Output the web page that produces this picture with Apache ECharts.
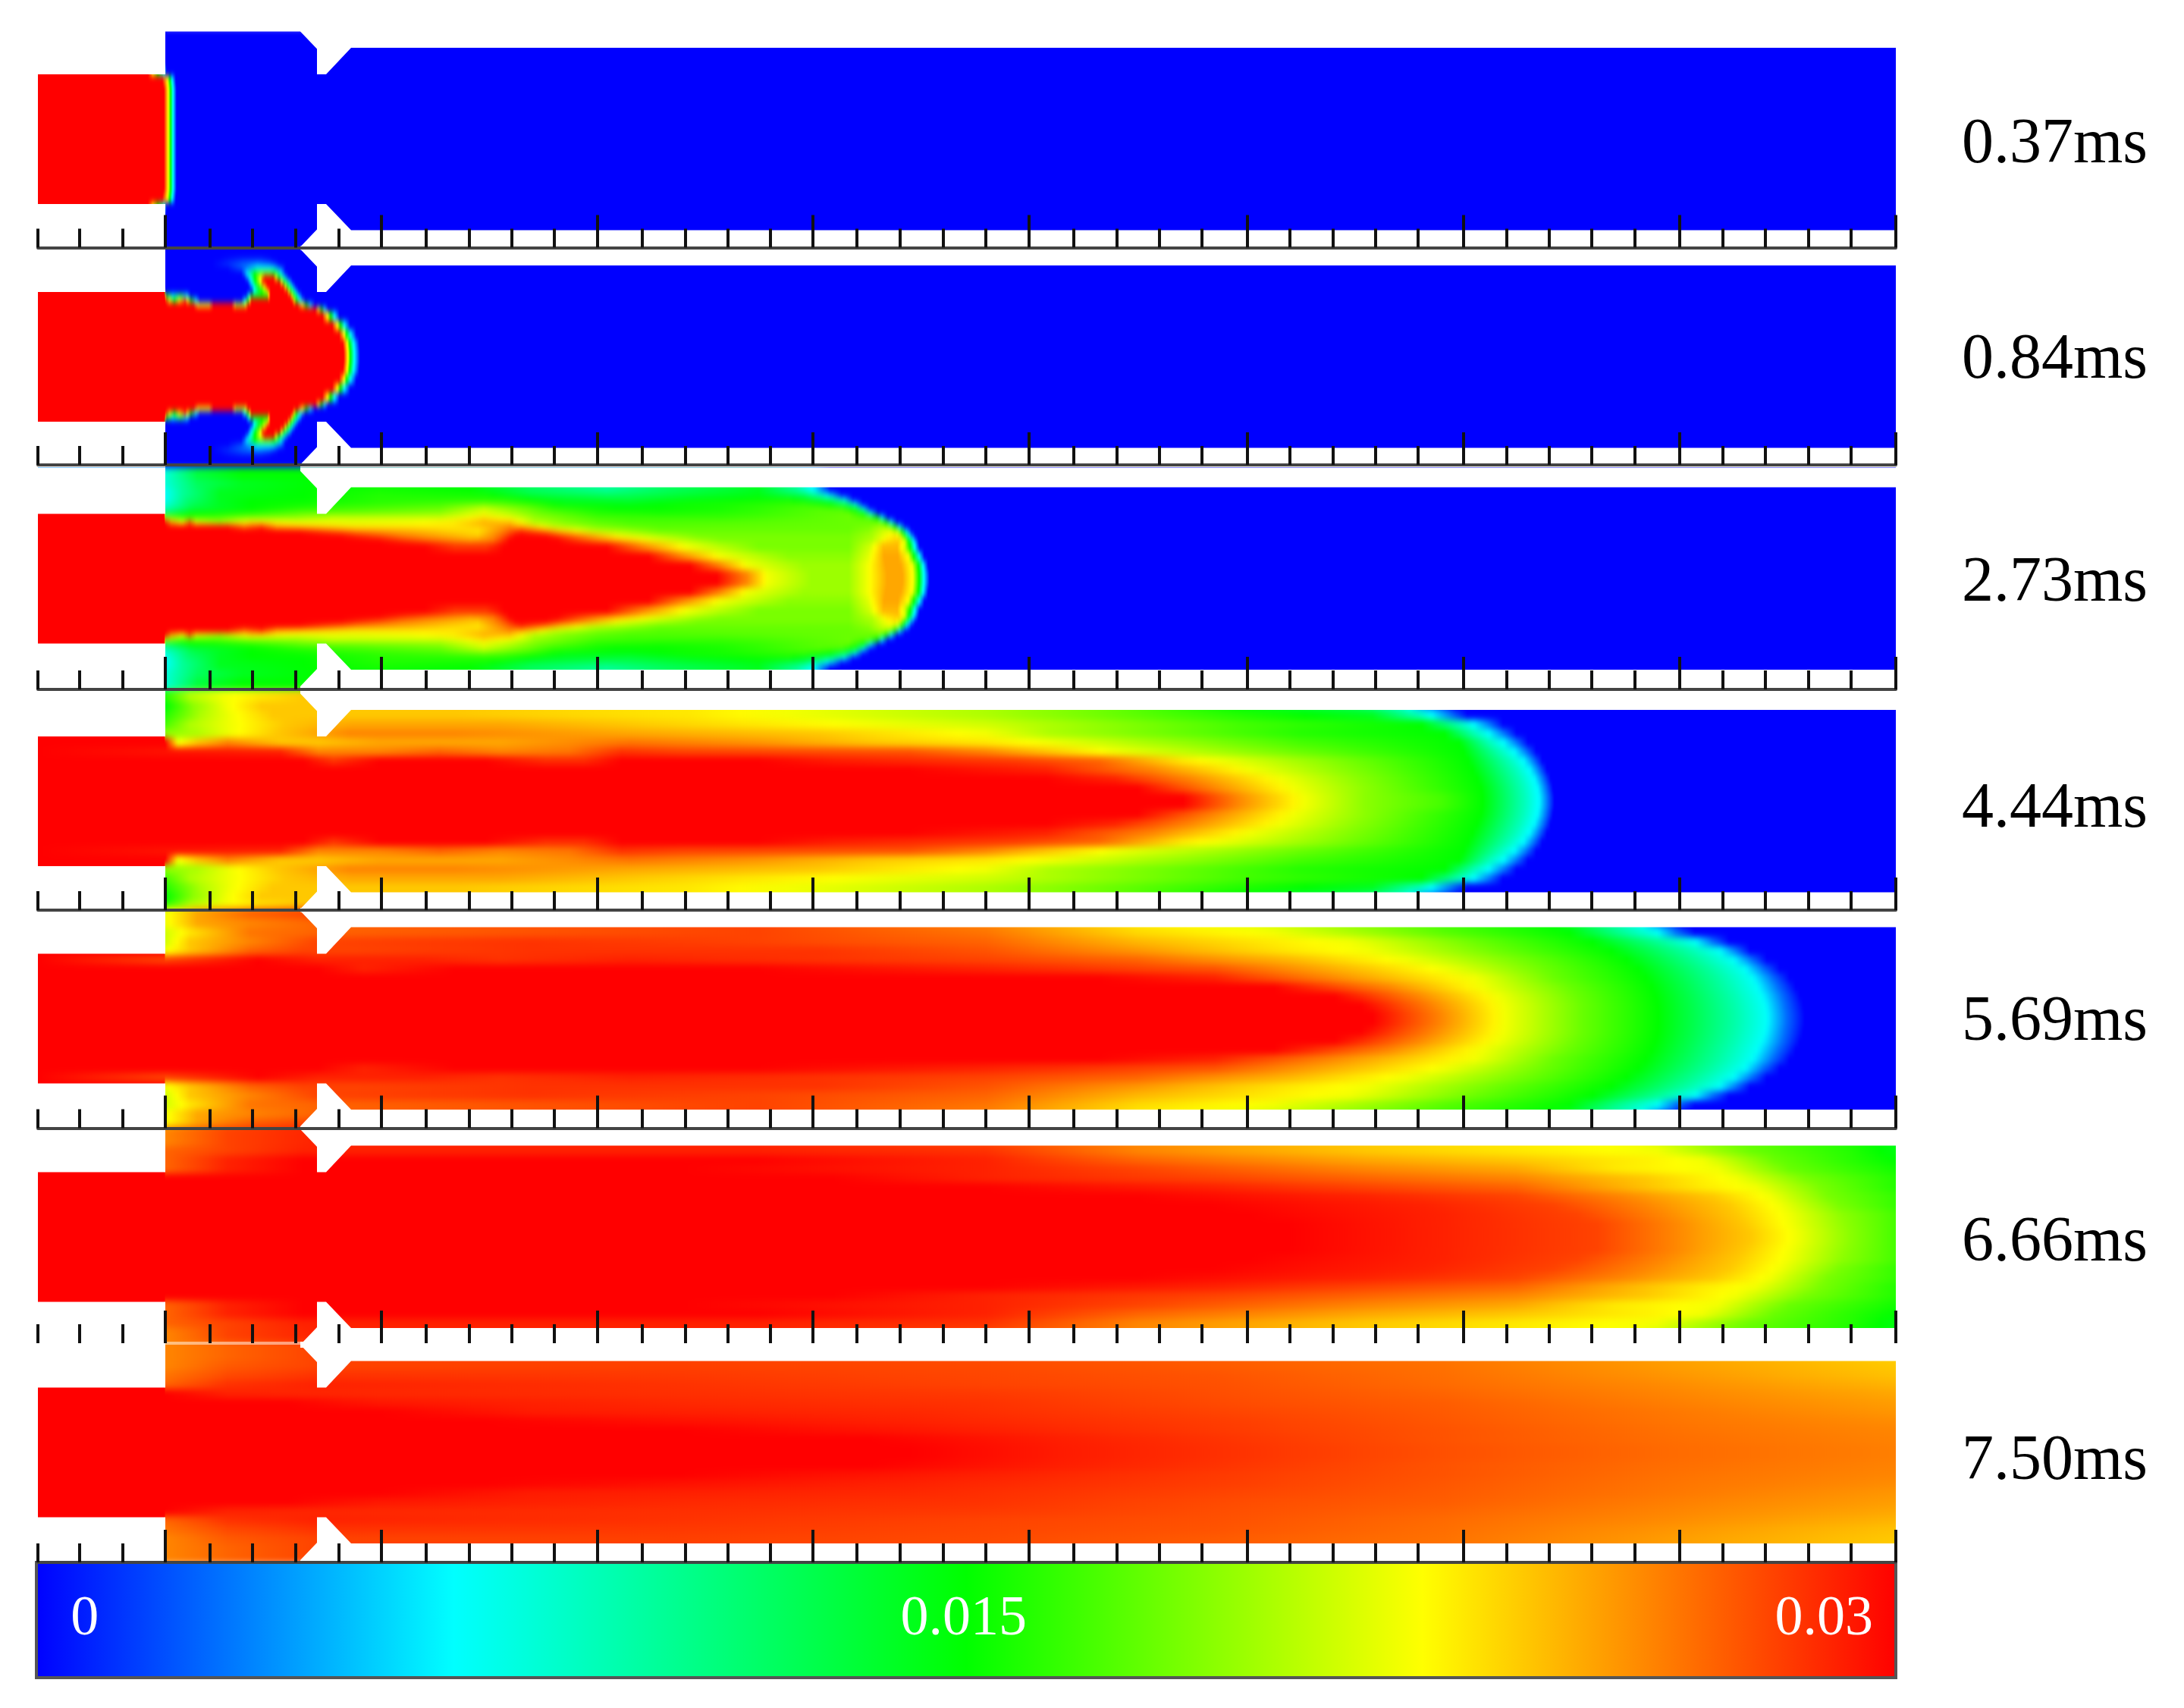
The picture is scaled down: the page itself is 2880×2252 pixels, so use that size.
<!DOCTYPE html>
<html>
<head>
<meta charset="utf-8">
<title>Fuel concentration over time</title>
<script src="https://cdn.jsdelivr.net/npm/echarts@6/dist/echarts.min.js"></script>
<style>
html, body { margin: 0; padding: 0; background: #fff; }
#chart { width: 2880px; height: 2252px; }
/* the field bands live on the bottom canvas, soften them across the rows only */
#chart canvas[data-zr-dom-id="zr_0"] { filter: url(#rowBlend); }
</style>
</head>
<body>
<svg width="0" height="0" style="position:absolute">
  <filter id="rowBlend" x="0" y="0" width="1" height="1" color-interpolation-filters="sRGB">
    <feGaussianBlur stdDeviation="0 4"/>
  </filter>
</svg>
<div id="chart"></div>
<script>
var timeLabels = ['0.37ms', '0.84ms', '2.73ms', '4.44ms', '5.69ms', '6.66ms', '7.50ms'];
var colorbarLabels = ['0', '0.015', '0.03'];
var colorbarLabelValues = [0.78, 14.96, 28.84];

// colour scale, values are fraction x 1000
var scaleLevels = [0, 6.75, 15, 22.35, 30];
var scaleColors = ['#0000ff', '#00ffff', '#00ff00', '#ffff00', '#ff0000'];

// ruler ticks along the duct
var majorTicks = [218, 502.5, 788, 1072, 1356.5, 1645, 1930, 2215, 2500];
var minorTicks = [50, 105, 162, 277, 333, 390, 447, 562, 619, 675, 731, 847, 904, 960, 1016,
    1130, 1187, 1244, 1300, 1416, 1473, 1529, 1585, 1701, 1758, 1814, 1870, 1987, 2043, 2099, 2156,
    2272, 2328, 2385, 2441];

// distance from the axis of each band edge, one half of the duct
var rowEdges = [0, 12, 24, 36, 48, 60, 72, 84, 96, 108, 120, 132, 146];
var rowEdges084 = [0, 12, 24, 36, 48, 60, 66, 72, 78, 84, 90, 96, 102, 108, 114, 120, 126, 132, 146];
var rowEdges273 = [0, 12, 24, 36, 48, 54, 60, 66, 72, 78, 84, 90, 96, 102, 108, 114, 120, 132, 146];

// each row: x, value, x, value ... read along one band
var field037 = [
    [50,30,216,30,222,22,225,15,228,7,233,0],
    [50,30,216,30,222,22,225,15,228,7,233,0],
    [50,30,216,30,222,22,225,15,228,7,233,0],
    [50,30,216,30,222,22,225,15,228,7,233,0],
    [50,30,216,30,222,22,225,15,228,7,233,0],
    [50,30,216,30,222,22,225,15,228,7,233,0],
    [50,30,214,30,221,22,224,15,227,7,232,0],
    [50,30,195,30,208,15,216,7,220,0],
    [50,30,190,30,205,15,215,7,218,0],
    [50,0,2500,0],
    [50,0,2500,0],
    [50,0,2500,0]
];
var field084 = [
    [50,30,453,30,459,22,462,15,467,7,475,0],
    [50,30,452,30,458,22,461,15,466,7,474,0],
    [50,30,447,30,454,22,457,15,462,7,470,0],
    [50,30,438,30,445,22,449,15,454,7,462,0],
    [50,30,425,30,432,22,436,15,441,7,448,0],
    [50,30,415,30,420,22,424,15,428,7,433,0],
    [50,30,255,30,262,22,275,22,282,30,305,30,312,20,322,20,328,30,392,30,399,22,404,15,409,7,416,0],
    [50,30,218,30,224,22,230,15,236,22,244,28,252,15,258,7,264,0,318,0,323,7,327,15,332,30,385,30,391,15,396,7,403,0],
    [50,30,217,30,220,15,228,7,238,12,246,7,252,0,324,0,328,7,332,15,352,15,357,30,382,30,388,15,393,7,399,0],
    [50,30,217,30,218,0,332,0,336,7,345,15,352,22,357,30,378,30,384,15,389,7,394,0],
    [50,30,217,30,218,0,328,0,335,7,341,15,348,22,353,30,373,30,380,15,385,7,390,0],
    [50,30,217,30,218,0,326,0,332,7,337,15,343,22,347,30,368,30,375,15,381,7,386,0],
    [50,0,322,0,330,7,336,15,343,22,350,30,360,30,368,15,375,7,381,0],
    [50,0,318,0,326,7,336,15,345,18,355,18,362,15,370,7,376,0],
    [50,0,300,0,325,3,340,7,360,7,370,3,378,0],
    [50,0,280,0,310,2,340,4,355,3,368,0],
    [50,0,290,0,320,1,345,1,360,0],
    [50,0,2500,0]
];
var field273 = [
    [50,30,945,30,985,26,1012,22,1070,19.5,1119,19.5,1144,22,1170,25,1190,25,1204,22,1212,15,1218,7,1226,0],
    [50,30,910,30,950,26,985,22,1060,19.5,1119,19.5,1144,22,1168,25,1188,25,1203,22,1211,15,1217,7,1224,0],
    [50,30,855,30,900,26,950,22,1040,19,1119,19,1145,21.5,1166,25,1184,25,1198,22,1205,15,1212,7,1219,0],
    [50,30,560,30,600,28.5,640,28.5,665,30,800,30,850,26,905,22,1000,18.5,1119,18.5,1146,21,1165,24.5,1183,24.5,1193,21,1200,15,1206,7,1213,0],
    [50,30,500,30,560,27,620,25,650,26,672,30,735,30,790,26,858,22,950,18.5,1119,18.5,1150,20,1170,23,1185,24,1193,22,1198,15,1204,7,1211,0],
    [50,30,450,30,490,28,530,26,580,25,630,24,660,27,680,30,720,30,770,26,820,22,920,18.5,1119,18.5,1150,20,1168,22,1180,23,1188,21,1193,15,1199,7,1207,0],
    [50,30,395,30,430,28,470,26,539,25,580,24,630,23,663,26,688,29,713,27,738,24,780,21,870,18,1119,18,1145,19,1165,21,1175,22,1184,20,1189,15,1195,7,1202,0],
    [50,30,300,30,322,27,345,29,365,25,398,24,464,23,539,23,597,23,638,24,672,26,697,24,730,21,788,18.5,870,17.5,1119,18,1145,18.5,1165,20,1172,19,1180,15,1186,7,1194,0],
    [50,30,218,30,226,25,240,22,250,27,260,22,290,20,332,23,398,22,464,21.5,539,22,597,23,638,25,672,24,705,20,746,18.5,830,17,1119,18,1148,18,1160,18,1168,15,1175,7,1183,0],
    [50,30,217,30,218,20,240,17,282,17,332,19,390,19,440,21,514,21,580,21,638,23,672,22,705,19.5,788,17,950,16.5,1119,18,1145,17.5,1156,15,1163,7,1171,0],
    [50,30,217,30,218,12,250,15,332,16,398,18,464,18,580,19,638,21.5,672,20,713,18,788,16,870,15.5,1000,16.5,1119,18,1138,15,1148,7,1158,0],
    [50,30,217,30,218,9,257,13,332,15,398,16,460,17,580,18,638,21,680,19,730,16.5,812,15,950,15.5,1080,17.5,1110,17,1128,14,1138,7,1148,0],
    [50,8,218,8,250,12,290,14,332,15,400,15.5,464,16,580,17,638,18,697,16.5,746,14.5,830,14.5,912,15.5,1060,16.5,1095,15,1115,12,1127,7,1138,0],
    [50,7,218,7,245,11,290,14,332,15,400,15,500,16,663,16,730,14,830,13,912,14.5,1040,15.5,1080,13,1100,10,1113,7,1125,0],
    [50,7,218,7,240,10,290,14,400,15,500,16,640,15.5,700,13,800,12,880,13,1000,14.5,1060,12,1085,8,1098,5,1110,0],
    [50,7,218,7,240,10,290,14,400,15,500,15.5,620,15,700,12,800,10,880,12,1000,14,1050,10,1075,6,1095,0],
    [50,7,218,8,260,12,320,14,418,15,500,15.5,620,15,700,12,800,10,880,12,1000,14,1050,10,1075,6,1095,0],
    [50,8,218,8,260,13,320,15,418,15,500,15.5,620,15,700,12,800,10,880,12,1000,14,1050,10,1075,6,1095,0]
];
var field444 = [
    [50,30,1560,30,1632,26,1720,22,1800,19,1900,17,1955,15,2010,9,2030,6.5,2050,0],
    [50,30,1500,30,1600,26,1706,22,1800,19,1953,15,2008,9,2028,6.5,2048,0],
    [50,30,1380,30,1470,29,1570,26,1690,22,1790,19,1948,15,2004,9,2024,6.5,2045,0],
    [50,30,1200,30,1380,29,1520,26,1650,22,1770,19,1942,15,1998,9,2018,6.5,2040,0],
    [50,30,400,30,440,28.5,500,30,640,30,720,28.7,770,28.7,820,30,1000,30,1100,29.2,1340,28.2,1450,27,1560,23,1700,20,1936,15,1990,9,2010,6.5,2034,0],
    [50,30,370,29,420,26,500,26,580,27,660,26,750,26.5,820,28.5,900,28,1200,27.5,1300,26,1383,24,1466,22,1715,18,1930,15,1978,9,1998,6.5,2026,0],
    [50,30,218,30,235,22,260,24,300,26,370,24,420,24,500,25,660,25,830,26.5,1000,25.5,1150,24,1300,23,1383,22,1507,20,1715,17,1924,15,1964,9,1984,6.5,2015,0],
    [50,30,217,30,218,19,260,20,305,22,365,24,460,26,600,26,830,25,1080,24,1300,22,1383,20,1549,18,1715,16,1905,15,1945,9,1965,6.5,2000,0],
    [50,30,217,30,218,17,250,20,305,22,375,24,465,25,660,25,830,24,1000,23,1300,21,1466,19,1632,17,1875,15,1925,9,1945,6.5,1982,0],
    [50,16,218,16,265,20,305,22,360,24,600,24,910,23,1300,20,1466,18,1632,16,1810,14,1870,9,1890,6.5,1935,0],
    [50,15,218,15,255,19,300,22,345,24,600,24,910,23,1300,20,1466,18,1632,15,1790,12,1850,8,1872,5,1920,0],
    [50,15,218,16,250,20,295,22,340,23,400,24,600,24,910,23,1300,20,1466,18,1632,15,1790,12,1850,8,1872,5,1920,0]
];
var field569 = [
    [50,30,1810,30,1900,26,1985,22,2086,18,2187,15,2280,10,2328,7,2355,3,2380,0],
    [50,30,1795,30,1890,26,1983,22,2086,18,2186,15,2278,10,2326,7,2353,3,2378,0],
    [50,30,1760,30,1870,26,1975,22,2080,18,2183,15,2274,10,2322,7,2350,3,2374,0],
    [50,30,1680,30,1830,26,1955,22,2070,18,2178,15,2268,10,2316,7,2344,3,2368,0],
    [50,30,1450,30,1602,29,1753,26,1945,22,2050,18,2170,15,2262,10,2310,7,2337,3,2360,0],
    [50,30,420,30,480,29,600,30,1000,30,1300,29,1420,28.5,1602,27.5,1804,24,1905,22,2040,18,2160,15,2252,10,2300,7,2325,3,2347,0],
    [50,30,218,28,280,29,340,30,420,29,560,29,660,28.5,830,29,1080,28.5,1300,28,1500,27,1703,24.5,1854,22,2020,18,2145,15,2237,10,2285,7,2310,3,2330,0],
    [50,30,217,30,218,22,250,24,330,27,400,28,470,28,700,28.5,1080,28.5,1300,27.5,1500,25.5,1703,23,1804,22,1980,18,2125,15,2219,10,2267,7,2290,3,2308,0],
    [50,30,217,30,218,21,250,24,330,26,418,28,700,28.5,1000,28,1300,27,1500,24.5,1780,22,1950,18,2100,15,2190,10,2235,7,2258,3,2280,0],
    [50,21,218,21,250,23,330,26.5,418,27,1000,28,1300,26.5,1500,23.5,1680,22,1905,17.5,2070,15,2140,10,2185,7,2210,3,2235,0],
    [50,22,218,22,260,25,330,26,418,27,1000,28,1300,26,1500,23,1653,21.5,1905,17,2050,15,2120,10,2165,7,2190,3,2220,0],
    [50,22,218,22,260,25,330,27,418,28,1000,28,1300,26,1500,23,1653,21.5,1905,17,2050,15,2120,10,2165,7,2190,3,2220,0]
];
var field666 = [
    [50,30,1700,30,1905,29,2106,28,2207,26,2308,24,2368,22,2439,19,2500,17],
    [50,30,1700,30,1905,29,2106,28,2207,26,2300,24,2362,22,2435,19,2500,17],
    [50,30,1650,30,1905,29,2080,28,2190,26,2290,24,2358,22,2430,19,2500,17],
    [50,30,1600,30,1880,29,2050,28,2170,26,2280,24,2348,22,2425,18.5,2500,16.5],
    [50,30,1500,30,1800,29,2000,28,2140,26,2260,24,2335,22,2410,18.5,2500,16.5],
    [50,30,1300,30,1600,29,1800,28,2000,27,2120,25,2240,23,2315,22,2400,18.5,2500,16],
    [50,30,1100,30,1300,29,1600,28,1800,27,2000,26,2170,24,2290,22,2380,18.5,2500,16],
    [50,30,217,30,218,27,300,29,400,30,900,30,1300,29,1500,28,1800,26,2000,25,2130,23,2265,22,2360,18,2500,15.5],
    [50,30,217,30,218,27,300,29,400,30,1000,30,1300,29,1500,27,1800,25,2000,24,2177,22.7,2245,22,2340,18,2500,15],
    [50,27,218,27,300,28,400,29,1000,29,1300,28.5,1500,26,1800,24,2000,23,2185,22,2310,18,2440,16,2500,14.5],
    [50,26,218,26,300,28,418,29,1000,29,1300,28,1500,26,1800,24,2000,23,2160,22,2290,18,2420,16,2500,14.5],
    [50,26,218,26,300,28,418,29,1000,29,1300,28,1500,26,1800,24,2000,23,2160,22,2290,18,2420,16,2500,14.5]
];
var field750 = [
    [50,30,1200,30,1400,29.2,1600,28.6,1905,27.6,2207,26.8,2500,26.2],
    [50,30,1150,30,1400,29.1,1600,28.5,1905,27.5,2207,26.7,2500,26.1],
    [50,30,900,30,1200,29.3,1600,28.3,1905,27.5,2207,26.6,2500,26],
    [50,30,640,30,900,29.5,1200,29,1600,28.2,1905,27.4,2207,26.5,2500,25.8],
    [50,30,500,30,700,29.2,1200,28.8,1600,28,1905,27.3,2207,26.4,2500,25.5],
    [50,30,380,30,500,29.3,900,28.8,1300,28.5,1600,27.8,1905,27.2,2207,26.2,2500,25.3],
    [50,30,218,30,300,29,500,28.8,900,28.6,1300,28.3,1600,27.7,1905,27,2207,26,2500,25],
    [50,30,217,30,218,27,300,28.5,418,29,900,28.5,1300,28,1600,27.6,1905,26.8,2207,25.8,2500,24.6],
    [50,30,217,30,218,26.5,300,27.8,418,28.5,900,28.3,1300,27.9,1600,27.5,1905,26.7,2207,25.5,2500,24.2],
    [50,26,218,26,300,27.3,418,28,900,28.1,1300,27.8,1600,27.3,1905,26.6,2207,25.3,2500,24],
    [50,26,218,26,300,27,418,28,900,28,1300,27.7,1600,27.2,1905,26.5,2207,25.2,2500,23.8],
    [50,26,218,26,300,27,418,28,900,28,1300,27.7,1600,27.2,1905,26.5,2207,25.2,2500,23.8]
];
var panelFields = [field037, field084, field273, field444, field569, field666, field750];
var panelRowEdges = [rowEdges, rowEdges084, rowEdges273, rowEdges, rowEdges, rowEdges, rowEdges];

// layout of the panels in the page
var panelCenters = [183.6, 470.5, 763, 1056.5, 1343, 1631, 1915];
var panelBaselines = [326.5, 613, 909, 1200, 1487.5, 1771, 2060];
var timeLabelY = [192, 476, 770, 1068, 1349, 1640, 1928];

// outside of the duct, in the same axis units as the field
var ductMasks = [
    [[40, 146], [218, 146], [218, 85.5], [40, 85.5]],
    [[40, -146], [218, -146], [218, -85.5], [40, -85.5]],
    [[396, 146], [396, 142], [418, 119], [418, 85.5], [430, 85.5], [463, 120.5], [2510, 120.5], [2510, 146]],
    [[396, -146], [396, -142], [418, -119], [418, -85.5], [430, -85.5], [463, -120], [2510, -120], [2510, -146]]
];
var topEdgeMask = [[40, 142], [2510, 142], [2510, 180], [40, 180]];

function colorOf(v) {
    for (var i = 1; i < scaleLevels.length; i++) {
        if (v <= scaleLevels[i]) {
            var t = (v - scaleLevels[i - 1]) / (scaleLevels[i] - scaleLevels[i - 1]);
            return echarts.color.lerp(t, [scaleColors[i - 1], scaleColors[i]]);
        }
    }
    return scaleColors[scaleColors.length - 1];
}

function rowGradient(row) {
    var stops = [];
    for (var i = 0; i < row.length - 2; i += 2) {
        for (var k = 0; k < 6; k++) {
            var x = row[i] + (row[i + 2] - row[i]) * k / 6;
            var v = row[i + 1] + (row[i + 3] - row[i + 1]) * k / 6;
            stops.push({ offset: (x - 50) / 2450, color: colorOf(v) });
        }
    }
    var lastX = row[row.length - 2], lastV = row[row.length - 1];
    stops.push({ offset: (lastX - 50) / 2450, color: colorOf(lastV) });
    stops.push({ offset: 1, color: colorOf(lastV) });
    return new echarts.graphic.LinearGradient(0, 0, 1, 0, stops);
}

var chart = echarts.init(document.getElementById('chart'));

var grids = [], xAxes = [], yAxes = [], series = [], titles = [];

panelFields.forEach(function (rows, p) {
    var top = panelCenters[p] - 142;
    var edges = panelRowEdges[p];
    grids.push({ left: 50, width: 2450, top: top, height: panelBaselines[p] - top });
    var lineColor = p === 5 ? 'rgba(255,255,255,0.5)' : '#444';
    xAxes.push({
        gridIndex: p, type: 'value', position: 'bottom', min: 50, max: 2500, zlevel: 3,
        axisLine: { show: true, onZero: false, lineStyle: { color: lineColor, width: 4 } },
        axisTick: { show: true, inside: true, length: 43, customValues: majorTicks, lineStyle: { color: '#111', width: 4 } },
        axisLabel: { show: false }, splitLine: { show: false }
    });
    xAxes.push({
        gridIndex: p, type: 'value', position: 'bottom', min: 50, max: 2500, zlevel: 3,
        axisLine: { show: false, onZero: false },
        axisTick: { show: true, inside: true, length: 25, customValues: minorTicks, lineStyle: { color: '#111', width: 4 } },
        axisLabel: { show: false }, splitLine: { show: false }
    });
    yAxes.push({
        gridIndex: p, type: 'value', show: false,
        min: panelCenters[p] - panelBaselines[p], max: 142
    });

    // field bands, both sides of the axis
    var bandData = [];
    rows.forEach(function (row, r) {
        bandData.push([r, 1]);
        bandData.push([r, -1]);
    });
    series.push({
        type: 'custom', zlevel: 0, xAxisIndex: p * 2, yAxisIndex: p, silent: true,
        data: bandData, clip: false,
        renderItem: function (params, api) {
            var r = api.value(0), sign = api.value(1);
            var a = api.coord([50, sign * edges[r + 1]]);
            var b = api.coord([2500, sign * edges[r]]);
            return {
                type: 'rect',
                shape: { x: a[0], y: Math.min(a[1], b[1]) - 0.5, width: b[0] - a[0], height: Math.abs(b[1] - a[1]) + 1 },
                style: { fill: rowGradient(rows[r]) }
            };
        }
    });

    // white outside of the duct
    var masks = p === 0 ? ductMasks.concat([topEdgeMask]) : ductMasks;
    series.push({
        type: 'custom', zlevel: 1, xAxisIndex: p * 2, yAxisIndex: p, silent: true,
        data: masks.map(function (m, i) { return [i]; }), clip: false,
        renderItem: function (params, api) {
            var pts = masks[api.value(0)].map(function (pt) { return api.coord(pt); });
            return { type: 'polygon', shape: { points: pts }, style: { fill: '#fff' } };
        }
    });

    titles.push({
        text: timeLabels[p], left: 2587, top: timeLabelY[p] - 42, padding: 0, zlevel: 4,
        textStyle: { fontFamily: 'Liberation Serif', fontSize: 84, fontWeight: 'normal', color: '#000', lineHeight: 84 }
    });
});

// colour scale bar
var barIndex = panelFields.length;
grids.push({ left: 48, width: 2452, top: 2060, height: 152 });
xAxes.push({ gridIndex: barIndex, type: 'value', min: 0, max: 30, show: false });
yAxes.push({ gridIndex: barIndex, type: 'value', min: 0, max: 1, show: false });
series.push({
    type: 'custom', zlevel: 2, xAxisIndex: xAxes.length - 1, yAxisIndex: barIndex, silent: true,
    data: [[0]], clip: false,
    renderItem: function (params, api) {
        var a = api.coord([0, 1]), b = api.coord([30, 0]);
        var stops = scaleLevels.map(function (lv, i) {
            return { offset: lv / 30, color: scaleColors[i] };
        });
        return {
            type: 'rect',
            shape: { x: a[0], y: a[1], width: b[0] - a[0], height: b[1] - a[1] },
            style: { fill: new echarts.graphic.LinearGradient(0, 0, 1, 0, stops), stroke: '#555', lineWidth: 4 }
        };
    }
});
colorbarLabels.forEach(function (txt, i) {
    titles.push({
        text: txt, left: 48 + colorbarLabelValues[i] / 30 * 2452, top: 2136 - 37, textAlign: 'center', padding: 0, zlevel: 4,
        textStyle: { fontFamily: 'Liberation Serif', fontSize: 74, fontWeight: 'normal', color: '#fff', lineHeight: 74 }
    });
});

chart.setOption({
    backgroundColor: '#fff',
    animation: false,
    title: titles,
    grid: grids,
    xAxis: xAxes,
    yAxis: yAxes,
    series: series
});
</script>
</body>
</html>
